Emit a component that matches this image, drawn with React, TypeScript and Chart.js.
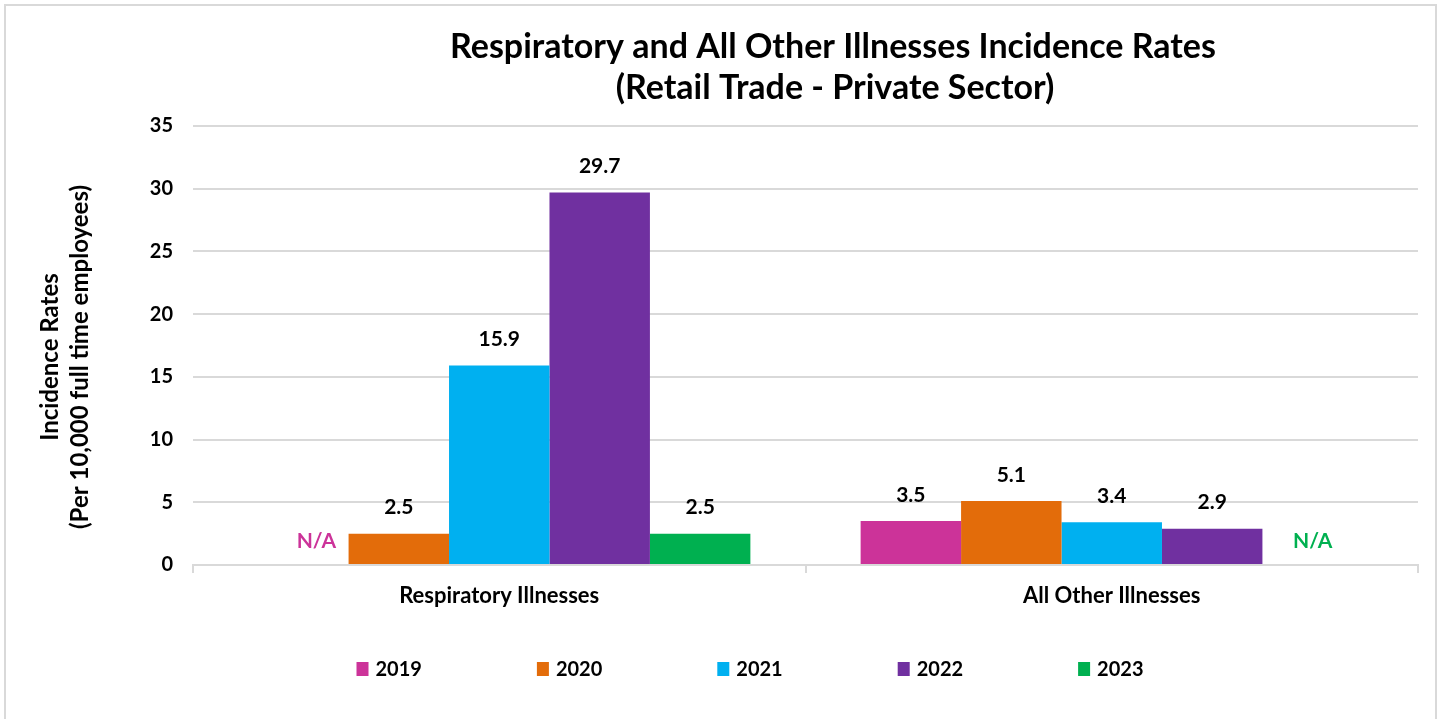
import React, { useEffect, useRef } from "react";
import { Chart, registerables } from "chart.js";

Chart.register(...registerables);

const categories = ["Respiratory Illnesses", "All Other Illnesses"];
const years = ["2019", "2020", "2021", "2022", "2023"];
const values2019: (number | null)[] = [null, 3.5];
const values2020: (number | null)[] = [2.5, 5.1];
const values2021: (number | null)[] = [15.9, 3.4];
const values2022: (number | null)[] = [29.7, 2.9];
const values2023: (number | null)[] = [2.5, null];
const colors = ["#CC3399", "#E36C0A", "#00B0F0", "#7030A0", "#00B050"];
const yTicks = [0, 5, 10, 15, 20, 25, 30, 35];
const titleLines = [
  "Respiratory and All Other Illnesses Incidence Rates",
  "(Retail Trade - Private Sector)",
];
const yTitleLines = ["Incidence Rates", "(Per 10,000 full time employees)"];

const FONT = "Lato, 'Open Sans', sans-serif";

const textPlugin = {
  id: "customText",
  afterDatasetsDraw(chart: any) {
    const { ctx, chartArea } = chart;
    ctx.save();
    chart.data.datasets.forEach((ds: any, di: number) => {
      const meta = chart.getDatasetMeta(di);
      meta.data.forEach((bar: any, i: number) => {
        const v = ds.data[i];
        ctx.font = `bold 21px ${FONT}`;
        ctx.textAlign = "center";
        ctx.textBaseline = "middle";
        if (v === null || v === undefined) {
          const ruler = chart.scales.x;
          const catW = (chartArea.right - chartArea.left) / categories.length;
          const groupW = catW * 0.82;
          const barW = groupW / years.length;
          const x0 = ruler.getPixelForValue(i) - groupW / 2 + barW * (di + 0.5);
          const nudge = di === 0 ? 18 : 0;
          ctx.fillStyle = colors[di];
          ctx.fillText("N/A", x0 + nudge, chartArea.bottom - 24);
        } else {
          ctx.fillStyle = "#000000";
          ctx.fillText(v.toFixed(1), bar.x, bar.y - 26);
        }
      });
    });
    ctx.restore();
  },
  afterDraw(chart: any) {
    const { ctx } = chart;
    ctx.save();
    ctx.fillStyle = "#000000";
    ctx.font = `bold 34px ${FONT}`;
    ctx.textAlign = "center";
    ctx.textBaseline = "middle";
    ctx.fillText(titleLines[0], 833, 47);
    ctx.fillText(titleLines[1], 835, 88);
    ctx.font = `bold 24px ${FONT}`;
    ctx.save();
    ctx.translate(50, 357);
    ctx.rotate(-Math.PI / 2);
    ctx.fillText(yTitleLines[0], 0, 0);
    ctx.restore();
    ctx.save();
    ctx.translate(80, 357);
    ctx.rotate(-Math.PI / 2);
    ctx.fillText(yTitleLines[1], 0, 0);
    ctx.restore();
    ctx.font = `bold 20px ${FONT}`;
    ctx.textAlign = "left";
    const boxW = 12;
    const boxH = 14;
    const gapBox = 7;
    const spacing = 115;
    const widths = years.map((y) => boxW + gapBox + ctx.measureText(y).width);
    const total = widths.reduce((a, b) => a + b, 0) + spacing * (years.length - 1);
    let x = 750 - total / 2;
    const cy = 669;
    years.forEach((y, i) => {
      ctx.fillStyle = colors[i];
      ctx.fillRect(x, cy - boxH / 2, boxW, boxH);
      ctx.fillStyle = "#000000";
      ctx.fillText(y, x + boxW + gapBox, cy + 1);
      x += widths[i] + spacing;
    });
    ctx.restore();
  },
};

export default function App() {
  const ref = useRef<HTMLCanvasElement>(null);
  useEffect(() => {
    if (!ref.current) return;
    const series = [values2019, values2020, values2021, values2022, values2023];
    const chart = new Chart(ref.current, {
      type: "bar",
      data: {
        labels: categories,
        datasets: years.map((y, i) => ({
          label: y,
          data: series[i],
          backgroundColor: colors[i],
          borderWidth: 0,
          categoryPercentage: 0.82,
          barPercentage: 1,
        })),
      },
      options: {
        animation: false,
        responsive: false,
        maintainAspectRatio: false,
        layout: { padding: { left: 30, right: 26, top: 126, bottom: 104 } },
        plugins: {
          legend: { display: false },
          title: { display: false },
          tooltip: { enabled: false },
        },
        scales: {
          x: {
            afterFit: (s: any) => {
              s.height = 50;
            },
            grid: {
              display: true,
              drawOnChartArea: false,
              drawTicks: true,
              tickLength: 8,
              color: "#d9d9d9",
              lineWidth: 2,
            },
            border: { display: true, color: "#d9d9d9", width: 2 },
            ticks: {
              color: "#000000",
              font: { family: FONT, size: 22, weight: "bold" },
              padding: 10,
            },
          },
          y: {
            min: 0,
            max: 35,
            afterFit: (s: any) => {
              s.width = 163;
            },
            afterBuildTicks: (s: any) => {
              s.ticks = yTicks.map((v) => ({ value: v }));
            },
            grid: {
              color: "#d9d9d9",
              lineWidth: 2,
              drawTicks: false,
            },
            border: { display: false },
            ticks: {
              color: "#000000",
              font: { family: FONT, size: 20, weight: "bold" },
              padding: 20,
            },
          },
        },
      },
      plugins: [textPlugin],
    });
    return () => chart.destroy();
  }, []);
  return (
    <div style={{ position: "absolute", left: 0, top: 0, width: 1444, height: 719, overflow: "hidden", background: "#fff" }}>
      <div
        style={{
          position: "absolute",
          left: 4,
          top: 4,
          width: 1433,
          height: 730,
          border: "2px solid #d9d9d9",
          boxSizing: "border-box",
        }}
      />
      <canvas ref={ref} width={1444} height={719} style={{ position: "absolute", left: 0, top: 0 }} />
    </div>
  );
}
